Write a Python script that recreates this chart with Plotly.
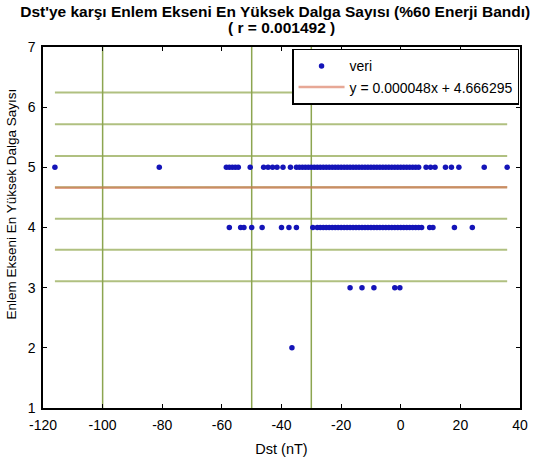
import plotly.graph_objects as go

# Dst (nT) values of the events, grouped by the peak latitudinal wave number
DST_ROW5 = [-116, -81, -58.5, -57.5, -56.5, -55.5, -54.5, -50.5, -46, -44.5, -43, -41.5,
            -39.5, -37] + list(range(-35, 7)) + [8.5, 10, 11.5, 15, 17, 19.5, 28, 35.7]
DST_ROW4 = [-57.5, -53.7, -52.6, -50, -46.5, -40, -37.5, -35, -29.5] + list(range(-28, 8)) + \
           [9.7, 10.8, 18, 24]
DST_ROW3 = [-17, -13, -9, -2, -0.3]
DST_ROW2 = [-36.5]

WAVE_ROW5 = [5] * len(DST_ROW5)
WAVE_ROW4 = [4] * len(DST_ROW4)
WAVE_ROW3 = [3] * len(DST_ROW3)
WAVE_ROW2 = [2] * len(DST_ROW2)

# linear fit and correlation
FIT_SLOPE = 0.000048
FIT_INTERCEPT = 4.666295
R_VALUE = 0.001492

# reference levels (mean and ±1, 2, 3 std) and Dst thresholds
H_LEVELS = [3.105, 3.63, 4.145, 4.667, 5.19, 5.717, 6.245]
V_LEVELS = [-100, -50, -30]

X_TICKS = [-120, -100, -80, -60, -40, -20, 0, 20, 40]
Y_TICKS = [1, 2, 3, 4, 5, 6, 7]

FONT = "Liberation Sans, Arial, sans-serif"

dst = DST_ROW5 + DST_ROW4 + DST_ROW3 + DST_ROW2
wave = WAVE_ROW5 + WAVE_ROW4 + WAVE_ROW3 + WAVE_ROW2
xmin, xmax = min(dst), max(dst)

fig = go.Figure()

# horizontal reference levels across the data range
for lvl in H_LEVELS:
    fig.add_trace(go.Scatter(x=[xmin, xmax], y=[lvl, lvl], mode="lines",
                             line=dict(color="rgb(176,192,128)", width=2),
                             showlegend=False, hoverinfo="skip"))

# vertical Dst thresholds spanning the full y range
for v in V_LEVELS:
    fig.add_trace(go.Scatter(x=[v, v], y=[Y_TICKS[0], Y_TICKS[-1]], mode="lines",
                             line=dict(color="rgb(140,165,80)", width=1.5),
                             showlegend=False, hoverinfo="skip"))

fig.add_trace(go.Scatter(x=dst, y=wave, mode="markers", name="veri",
                         marker=dict(color="#1414b8", size=5.5)))

fit_x = [xmin, xmax]
fit_y = [FIT_SLOPE * x + FIT_INTERCEPT for x in fit_x]
fig.add_trace(go.Scatter(x=fit_x, y=fit_y, mode="lines",
                         name=f"y = {FIT_SLOPE:.6f}x + {FIT_INTERCEPT:.6f}",
                         line=dict(color="rgba(215,110,80,0.6)", width=2.5)))

axis_common = dict(showgrid=False, zeroline=False, showline=True, linecolor="black",
                   linewidth=1.5, mirror="ticks", ticks="inside", ticklen=4,
                   tickcolor="black", ticklabelstandoff=3, automargin=False,
                   tickfont=dict(family=FONT, size=14, color="black"))

fig.update_layout(
    width=545, height=461,
    margin=dict(l=43, r=25, t=47, b=53),
    paper_bgcolor="white", plot_bgcolor="white",
    font=dict(family=FONT, color="black"),
    title=dict(text="<b>Dst'ye karşı Enlem Ekseni En Yüksek Dalga Sayısı (%60 Enerji Bandı)</b>",
               x=0.505, xanchor="center", y=0.975, yanchor="middle",
               font=dict(family=FONT, size=15.5, color="black")),
    annotations=[
        dict(text=f"<b>( r = {R_VALUE:.6f} )</b>", xref="paper", yref="paper",
             x=0.5, y=1.053, xanchor="center", yanchor="middle", showarrow=False,
             font=dict(family=FONT, size=15.5, color="black")),
        # y-axis label, set slightly above the axis centre
        dict(text="Enlem Ekseni En Yüksek Dalga Sayısı", xref="paper", yref="paper",
             x=-0.066, y=0.565, xanchor="center", yanchor="middle", textangle=-90,
             showarrow=False, font=dict(family=FONT, size=13.5, color="black")),
    ],
    xaxis=dict(range=[X_TICKS[0], X_TICKS[-1]], tickvals=X_TICKS,
               ticktext=[str(t) for t in X_TICKS],
               title=dict(text="Dst (nT)", font=dict(family=FONT, size=14.5), standoff=12),
               **axis_common),
    yaxis=dict(range=[Y_TICKS[0], Y_TICKS[-1]], tickvals=Y_TICKS,
               ticktext=[str(t) for t in Y_TICKS],
               **axis_common),
    legend=dict(x=0.998, xanchor="right", y=0.995, yanchor="top",
                bgcolor="white", bordercolor="black", borderwidth=1.5,
                font=dict(family=FONT, size=14), itemwidth=46,
                tracegroupgap=0),
    showlegend=True,
)

fig.write_html("out.html")
